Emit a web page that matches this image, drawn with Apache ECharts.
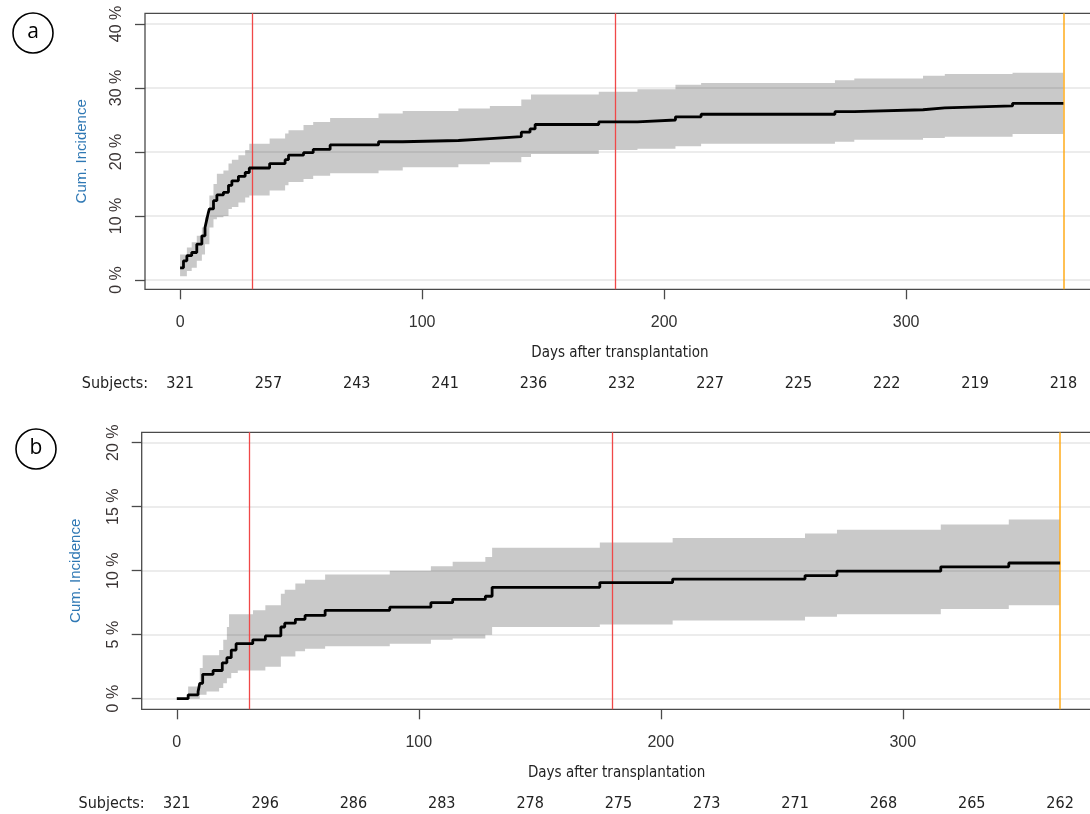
<!DOCTYPE html>
<html><head><meta charset="utf-8">
<script src="https://cdn.jsdelivr.net/npm/echarts@6/dist/echarts.min.js"></script>
<style>html,body{margin:0;padding:0;background:#fff}#c{width:1090px;height:814px}</style>
</head><body><div id="c"></div>
<script>
// ---------- Panel a ----------
const aTime = [0,1.4,2.8,4.8,6.9,9,10.3,11,11.6,12.1,13.8,15.2,17.9,20,21.4,24.1,26.9,28.6,37,43.4,44.8,51,55,62,82,92,115,128,141,144.6,146.7,173,189,204.7,215.3,270.6,278.6,307,316,344,365];
const aCum  = [1.9,3.0,3.8,4.3,5.6,6.9,8.2,9.4,10.4,11.1,12.4,13.3,13.7,14.8,15.5,16.2,16.8,17.5,18.2,18.8,19.5,19.9,20.4,21.1,21.6,21.8,22.1,22.4,23.1,23.6,24.3,24.7,25.0,25.5,25.9,26.3,26.6,26.9,27.2,27.6,27.6];
const aBandTime = [0,2.8,4.8,6.9,9,10.3,12.1,13.8,15.2,17.9,20,21.4,24.1,26.9,28.6,37,43.4,44.8,51,55,62,82,92,115,128,141,145,173,189,204.7,215.3,270.6,278.6,307,316,344,365];
const aLower = [0.6,1.4,1.9,3.0,4.0,5.6,8.2,9.5,9.8,10.0,11.1,11.4,12.1,12.9,13.2,14.0,14.8,15.3,15.8,16.3,16.7,17.1,17.6,18.1,18.4,19.2,19.7,20.3,20.5,20.9,21.3,21.6,21.9,22.2,22.4,22.8,22.8];
const aUpper = [4.0,5.1,5.9,6.9,8.2,9.8,13.2,15.0,16.6,17.1,18.2,18.8,19.5,20.3,21.3,22.1,22.9,23.4,24.2,24.7,25.3,26.0,26.4,26.8,27.2,28.2,29.0,29.4,29.8,30.5,30.8,31.2,31.5,31.9,32.2,32.4,32.4];
const aSubjects = [321,257,243,241,236,232,227,225,222,219,218];
const aYTicks = [0,10,20,30,40];

// ---------- Panel b ----------
const bTime = [0,4.7,8.8,9.5,10.7,15,18.8,20.7,22.5,24.5,31.4,36.6,43,44.6,49,53,61.3,88,105,114,127.5,130.3,174.8,204.9,259.6,272.8,315.7,343.8,365];
const bCum  = [0,0.3,0.55,1.2,1.9,2.2,2.8,3.2,3.8,4.3,4.6,4.9,5.6,5.9,6.2,6.5,6.9,7.15,7.5,7.75,8.0,8.7,9.07,9.34,9.62,9.96,10.3,10.6,10.6];
const bBandTime = [0,4.7,9.5,10.7,12.3,17.5,19.2,20.7,21.6,22.5,25.2,31.5,36.6,43,44.6,49,53,61.3,88,105,114,127.5,130.3,174.8,204.9,259.6,272.8,315.7,343.8,365];
const bUpper = [0,0.96,2.4,3.4,3.4,3.8,4.6,5.6,6.6,6.6,6.6,6.9,7.3,8.2,8.5,9.0,9.3,9.7,10.0,10.35,10.7,11.07,11.8,12.2,12.55,12.9,13.2,13.6,14.0,14.0];
const bLower = [0,0,0.3,0.3,0.57,0.83,1.2,1.6,1.6,2.0,2.2,2.2,2.5,3.3,3.3,3.7,3.9,4.1,4.3,4.6,4.7,5.0,5.6,5.8,6.1,6.4,6.6,7.0,7.3,7.3];
const bSubjects = [321,296,286,283,278,275,273,271,268,265,262];
const bYTicks = [0,5,10,15,20];

// ---------- shared ----------
const xTicks = [0,100,200,300];
const subjectDays = [0,36.5,73,109.5,146,182.5,219,255.5,292,328.5,365];
const redDays = [30,180];
const endDay = 365;
const xTitle = 'Days after transplantation';
const yTitle = 'Cum. Incidence';
const subjTitle = 'Subjects:';

const zip = (t, v) => t.map((x, i) => [x, v[i]]);
const zip3 = (t, l, u) => t.map((x, i) => [x, l[i], u[i]]);

const NARROW = "'Liberation Sans Narrow','DejaVu Sans Condensed','Liberation Sans',sans-serif";
const SANS = "'Liberation Sans',Arial,sans-serif";

const panels = [
  {time:aTime, cum:aCum, bt:aBandTime, lo:aLower, up:aUpper, subj:aSubjects, yt:aYTicks,
   left:145, top:13.3, height:276, ymin:-1.45, ymax:41.67, nameGap:56},
  {time:bTime, cum:bCum, bt:bBandTime, lo:bLower, up:bUpper, subj:bSubjects, yt:bYTicks,
   left:141.7, top:432.3, height:277, ymin:-0.83, ymax:20.81, nameGap:58}
];
const XMIN = -14.5, XMAX = 378, GRID_W = 949.85;

function bandRenderer(bt, lo, up) {
  return function (params, api) {
    if (params.dataIndex !== 0) return;
    const n = bt.length, pts = [];
    for (let i = 0; i < n; i++) {
      const x1 = i < n - 1 ? bt[i + 1] : bt[i];
      pts.push(api.coord([bt[i], up[i]]), api.coord([x1, up[i]]));
    }
    for (let i = n - 1; i >= 0; i--) {
      const x1 = i < n - 1 ? bt[i + 1] : bt[i];
      pts.push(api.coord([x1, lo[i]]), api.coord([bt[i], lo[i]]));
    }
    return {type:'polygon', shape:{points:pts}, style:{fill:'#c9c9c9', stroke:null}};
  };
}

const grid = [], xAxis = [], yAxis = [], series = [];
panels.forEach((p, k) => {
  grid.push({left:p.left, top:p.top, width:GRID_W, height:p.height, show:true,
    borderColor:'#4a4a4a', borderWidth:1.3, backgroundColor:'transparent', outerBoundsMode:'none', containLabel:false});
  xAxis.push({type:'value', gridIndex:k, min:XMIN, max:XMAX, position:'bottom',
    axisLine:{show:false, onZero:false}, splitLine:{show:false},
    axisTick:{show:true, length:10, customValues:xTicks, lineStyle:{color:'#4a4a4a', width:1.3}},
    axisLabel:{customValues:xTicks, margin:25, fontSize:16, fontFamily:SANS, color:'#333'},
    name:xTitle, nameLocation:'middle', nameGap:56, nameMoveOverlap:false,
    nameTextStyle:{fontSize:15, fontFamily:NARROW, color:'#222', verticalAlign:'top'}});
  const subj = p.subj;
  xAxis.push({type:'value', gridIndex:k, min:XMIN, max:XMAX, position:'bottom', offset:87,
    axisLine:{show:false, onZero:false}, splitLine:{show:false}, axisTick:{show:false},
    axisLabel:{customValues:subjectDays, margin:0, fontSize:16, fontFamily:NARROW, color:'#222',
      formatter:v => String(subj[Math.round(v / 36.5)])},
    name:subjTitle, nameLocation:'start', nameGap:-3, nameMoveOverlap:false,
    nameTextStyle:{fontSize:16, fontFamily:NARROW, color:'#222', align:'right', verticalAlign:'top'}});
  yAxis.push({type:'value', gridIndex:k, min:p.ymin, max:p.ymax,
    axisLine:{show:false, onZero:false}, splitLine:{show:false},
    axisTick:{show:true, length:10, customValues:p.yt, lineStyle:{color:'#4a4a4a', width:1.3}},
    axisLabel:{customValues:p.yt, rotate:90, margin:20, fontSize:16, fontFamily:SANS, color:'#3a3434',
      formatter:v => v + ' %'},
    name:yTitle, nameLocation:'middle', nameGap:p.nameGap, nameRotate:90, nameMoveOverlap:false,
    nameTextStyle:{fontSize:15, fontFamily:SANS, color:'#2f78b4'}});

  const xi = k * 2, yi = k;
  series.push({type:'custom', coordinateSystem:'cartesian2d', xAxisIndex:xi, yAxisIndex:yi,
    data:zip3(p.bt, p.lo, p.up), encode:{x:0, y:[1,2]}, silent:true, z:2,
    renderItem:bandRenderer(p.bt, p.lo, p.up)});
  series.push({type:'line', xAxisIndex:xi, yAxisIndex:yi, data:zip(p.time, p.cum),
    step:'end', symbol:'none', silent:true, lineStyle:{color:'#000', width:2.8}, z:6,
    markLine:{silent:true, symbol:'none', z:5, label:{show:false},
      data:[...p.yt.map(v => ({yAxis:v, lineStyle:{color:'rgba(0,0,0,0.10)', width:1.6, type:'solid'}})),
            ...redDays.map(d => ({xAxis:d, lineStyle:{color:'#f04848', width:1.3, type:'solid'}})),
            {xAxis:endDay, lineStyle:{color:'#ffab1a', width:1.5, type:'solid'}}]}});
});

const chart = echarts.init(document.getElementById('c'), null, {renderer:'canvas'});
chart.setOption({
  backgroundColor:'#fff', animation:false,
  grid, xAxis, yAxis, series,
  graphic:[
    {type:'circle', shape:{cx:33, cy:33, r:20}, style:{fill:'none', stroke:'#000', lineWidth:1.6}},
    {type:'text', x:33, y:32, style:{text:'a', fontSize:21, fontFamily:"'Open Sans',sans-serif", fill:'#000', align:'center', verticalAlign:'middle'}},
    {type:'circle', shape:{cx:36, cy:449, r:20}, style:{fill:'none', stroke:'#000', lineWidth:1.6}},
    {type:'text', x:36, y:448, style:{text:'b', fontSize:21, fontFamily:"'Open Sans',sans-serif", fill:'#000', align:'center', verticalAlign:'middle'}}
  ]
});
</script></body></html>
